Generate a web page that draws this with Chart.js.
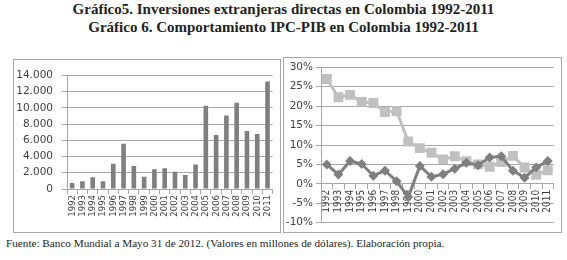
<!DOCTYPE html>
<html lang="es">
<head>
<meta charset="utf-8">
<title>Inversiones extranjeras e IPC-PIB en Colombia 1992-2011</title>
<script src="https://cdn.jsdelivr.net/npm/chart.js@4.4.1/dist/chart.umd.min.js"></script>
<style>
  body { margin: 0; width: 567px; height: 260px; background: #fff; position: relative; overflow: hidden; font-family: "Liberation Serif", serif; }
  .titulo { position: absolute; left: 0; top: 0; width: 567px; text-align: center; font-size: 15px; font-weight: bold; line-height: 18px; color: #222; }
  .caja { position: absolute; border: 1px solid #a6a6a6; box-sizing: border-box; }
  .caja canvas { display: block; }
  #caja-inversion { left: 13px; top: 59px; width: 268px; height: 174px; }
  #caja-ipc { left: 283px; top: 57px; width: 279px; height: 176px; }
  .fuente { position: absolute; left: 6px; top: 237px; font-size: 11.2px; color: #222; white-space: nowrap; }
</style>
</head>
<body>
  <div class="titulo">Gráfico5. Inversiones extranjeras directas en Colombia 1992-2011<br>Gráfico 6. Comportamiento IPC-PIB en Colombia 1992-2011</div>
  <div class="caja" id="caja-inversion"><canvas id="inversionChart" width="266" height="172"></canvas></div>
  <div class="caja" id="caja-ipc"><canvas id="ipcPibChart" width="277" height="174"></canvas></div>
  <div class="fuente">Fuente: Banco Mundial a Mayo 31 de 2012. (Valores en millones de dólares). Elaboración propia.</div>

<script>
// Years on the x axis (both charts)
const years = ['1992', '1993', '1994', '1995', '1996', '1997', '1998', '1999', '2000', '2001',
               '2002', '2003', '2004', '2005', '2006', '2007', '2008', '2009', '2010', '2011'];

// Foreign direct investment, millions of dollars
const inversionExtranjera = [729, 959, 1446, 968, 3112, 5562, 2829, 1508, 2436, 2542,
                             2134, 1720, 3016, 10252, 6656, 9049, 10620, 7137, 6758, 13234];

// Inflation (IPC) and GDP growth (PIB), percent
const inflacionIPC = [27.0, 22.3, 22.9, 21.1, 20.8, 18.5, 18.7, 10.9, 9.2, 8.0,
                      6.3, 7.1, 5.8, 5.0, 4.4, 5.6, 7.2, 4.2, 2.3, 3.5];
const crecimientoPIB = [5.0, 2.4, 5.9, 5.1, 2.1, 3.4, 0.7, -3.4, 4.6, 1.8,
                        2.5, 3.9, 5.4, 4.8, 6.8, 7.1, 3.4, 1.6, 4.2, 5.9];

const gridGray = '#a6a6a6';
const textGray = '#404040';

Chart.defaults.animation = false;
Chart.defaults.color = textGray;

// Chart 5: bars
let ctxInversion = document.getElementById('inversionChart').getContext('2d');
new Chart(ctxInversion, {
    type: 'bar',
    data: {
        labels: years,
        datasets: [{
            label: 'Inversión extranjera directa',
            data: inversionExtranjera,
            backgroundColor: '#7f7f7f',
            barPercentage: 0.45,
            categoryPercentage: 1
        }]
    },
    options: {
        responsive: false,
        layout: { padding: { top: 12, right: 3, left: 0, bottom: 0 } },
        plugins: { legend: { display: false }, tooltip: { enabled: false } },
        scales: {
            x: {
                afterFit: scale => { scale.height = 43; },
                grid: { drawOnChartArea: false, color: gridGray, tickLength: 5, offset: true },
                border: { color: gridGray },
                ticks: {
                    minRotation: 90, maxRotation: 90, autoSkip: false, padding: 1,
                    font: { family: 'DejaVu Sans Condensed', size: 9.5 }
                }
            },
            y: {
                min: 0, max: 14000,
                afterFit: scale => { scale.width = 53; },
                grid: { color: gridGray, tickLength: 5 },
                border: { color: gridGray },
                ticks: {
                    stepSize: 2000, padding: 9,
                    font: { family: 'DejaVu Sans', size: 10.5 },
                    callback: v => v.toLocaleString('de-DE')
                }
            }
        }
    }
});

// Chart 6: IPC and PIB lines
let ctxIpc = document.getElementById('ipcPibChart').getContext('2d');
new Chart(ctxIpc, {
    type: 'line',
    data: {
        labels: years,
        datasets: [
            {
                label: 'PIB',
                data: crecimientoPIB,
                borderColor: '#7f7f7f',
                backgroundColor: '#7f7f7f',
                borderWidth: 3,
                pointStyle: 'rectRot',
                pointRadius: 5,
                pointBorderWidth: 0,
                tension: 0
            },
            {
                label: 'IPC',
                data: inflacionIPC,
                borderColor: '#c0c0c0',
                backgroundColor: '#c0c0c0',
                borderWidth: 3,
                pointStyle: 'rect',
                pointRadius: 7,
                pointBorderWidth: 0,
                tension: 0
            }
        ]
    },
    options: {
        responsive: false,
        layout: { padding: { top: 9, right: 1, left: 0, bottom: 6 } },
        plugins: { legend: { display: false }, tooltip: { enabled: false } },
        scales: {
            x: {
                position: { y: 0 },
                offset: true,
                afterFit: scale => { scale.height = 0; },
                grid: { drawOnChartArea: false, color: gridGray, tickLength: 5, offset: true },
                border: { color: gridGray },
                ticks: {
                    minRotation: 90, maxRotation: 90, autoSkip: false, padding: 1,
                    font: { family: 'DejaVu Sans Condensed', size: 10 }
                }
            },
            y: {
                min: -10, max: 30,
                afterFit: scale => { scale.width = 37; },
                grid: { color: gridGray, tickLength: 5 },
                border: { color: gridGray },
                ticks: {
                    stepSize: 5, padding: 3,
                    font: { family: 'DejaVu Sans', size: 10.5 },
                    callback: v => v + '%'
                }
            }
        }
    }
});
</script>
</body>
</html>
